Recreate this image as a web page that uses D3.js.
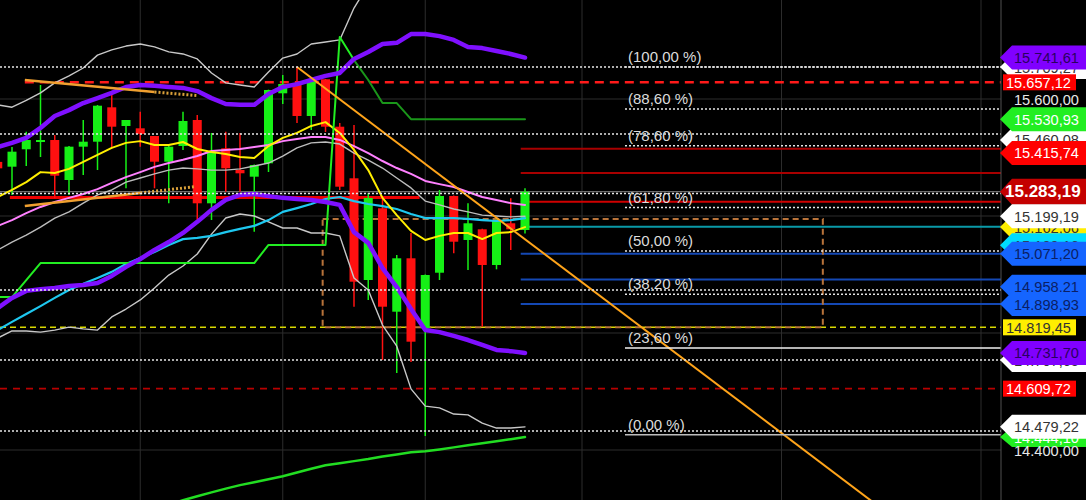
<!DOCTYPE html>
<html><head><meta charset="utf-8">
<script src="https://cdn.jsdelivr.net/npm/d3@7"></script>
<style>body{margin:0;background:#000;overflow:hidden}svg{display:block}</style>
</head><body><svg id="c" width="1086" height="500"></svg>
<script>
// ---------- DATA ----------
const candleIdx = d3.range(-1, 37);
const open  = [15385,15368.6,15428.1,15454,15459.8,15323.1,15437,15454,15571.6,15507.7,15499.8,15473.5,15385.6,15439.3,15528.2,15243.4,15431.5,15357.3,15334.4,15380.2,15619.5,15647.9,15541.9,15667.4,15505.3,15328.9,14981.2,15226.3,14872.8,15055.4,14816,15006.1,15268.4,15118,15154.5,15032.5,15175.1,15152.1];
const high  = [15400,15435.9,15488.2,15647.9,15476.9,15439.3,15528.2,15579.5,15624,15528.2,15556.6,15473.5,15440,15556.6,15545.3,15483.8,15488.2,15483.8,15376,15632,15682.1,15709.4,15671.8,15668.4,15518,15511.1,15278.6,15260.5,15066.7,15141.9,15000,15288.9,15270,15243.4,15156,15188,15260.5,15294.7];
const low   = [15340,15271.8,15370.9,15401.7,15260.5,15271.8,15340.2,15357.3,15431.5,15294.7,15437,15294.7,15243.4,15425.7,15186.3,15186.3,15283.1,15283.1,15146.3,15350.4,15582.9,15518,15494,15487.2,15288.9,14889.9,14912.8,14707.7,14663.2,14700.8,14447.8,14981.2,15072.5,15015.4,14821.5,15017.7,15083.8,15140.3];
const close = [15363,15419.9,15459.8,15459.8,15337.8,15437,15454,15577.1,15505.3,15528.2,15480.4,15385.6,15437,15524.8,15243.4,15419.9,15363.1,15346,15374.4,15630.8,15651.3,15541.9,15665,15505.3,15300.2,14975.4,15261.6,14889.9,15055.4,14770.3,14998.3,15268.4,15112.1,15175.1,15032.5,15186.3,15154.5,15283.19];

const purpleUpper = [15436,15450,15467,15501,15542,15562,15586,15603,15621,15641,15648,15645,15641,15638,15627,15603,15583,15580,15580,15617,15641,15651,15665,15679,15689,15737,15761,15788,15792,15822,15822,15815,15802,15778,15774,15764,15754,15741.61];
const purpleLower = [14885,14920,14944,14950,14954,14961,14964,14971,14995,15026,15053,15084,15111,15142,15180,15221,15255,15272,15275,15268,15262,15258,15255,15248,15238,15145,15108,15022,14957,14882,14810,14803,14790,14776,14759,14742,14738,14731.70];
const greyUpper = [15580,15572,15595,15621,15655,15679,15706,15750,15768,15781,15788,15778,15761,15754,15737,15689,15655,15648,15641,15692,15740,15754,15788,15795,15802,15911,15990,16058,16092,16126,16144,16144,16137,16126,16116,16110,16103,16096];
const greyMid = [15084,15111,15135,15162,15193,15214,15244,15272,15289,15316,15330,15344,15357,15364,15361,15357,15357,15361,15371,15381,15405,15433,15450,15453,15446,15415,15391,15364,15330,15296,15251,15238,15224,15214,15203,15200,15197,15199.19];
const greyLower = [14783,14807,14807,14803,14810,14820,14814,14810,14855,14882,14913,14954,14998,15029,15070,15138,15193,15207,15200,15180,15159,15159,15142,15142,15132,14988,14947,14827,14755,14609,14550,14544,14523,14520,14492,14475,14475,14479.22];
const pinkMA = [15166,15186,15210,15231,15248,15262,15275,15292,15313,15333,15350,15368,15381,15392,15405,15422,15426,15429,15436,15443,15456,15463,15470,15470,15460,15439,15415,15388,15364,15344,15320,15309,15299,15282,15265,15255,15244,15238];
const yellowMA = [15265,15289,15316,15350,15347,15361,15385,15409,15433,15450,15456,15443,15443,15453,15429,15419,15412,15402,15398,15439,15467,15484,15508,15521,15484,15426,15357,15262,15203,15149,15118,15132,15142,15142,15121,15142,15145,15162.06];
const cyanMA = [14810,14838,14865,14892,14920,14947,14968,14988,15009,15036,15056,15077,15101,15121,15125,15132,15145,15156,15166,15186,15214,15227,15241,15258,15265,15251,15241,15234,15224,15207,15193,15193,15193,15190,15186,15183,15186,15193];
const greenMA = [14050,14064,14077,14091,14105,14118,14132,14146,14159,14173,14187,14200,14214,14228,14242,14255,14268,14280,14290,14300,14310,14323,14336,14348,14355,14362,14369,14378,14385,14392,14396,14402,14409,14416,14423,14430,14437,14444.10];
const greenStep = [14923,14923,14981,15039,15039,15039,15039,15039,15039,15039,15039,15039,15039,15039,15039,15039,15039,15039,15039,15101,15101,15101,15101,15101,15812,15733,15665,15586,15586,15530.93,15530.93,15530.93,15530.93,15530.93,15530.93,15530.93,15530.93,15530.93];

const gridPrices = [15600, 15200, 14800, 14400];
const gridIdx = [9, 19, 29, 40, 54, 68];
const dottedLevels = [15709.27, 15480, 15277, 14947, 14707.65, 14465];
const fibRange = [14452, 15709.27];
const fibLevels = [100, 88.6, 78.6, 61.8, 50, 38.2, 23.6, 0];
const redDashedTop = 15657.12, redDashedLow = 14609.72, yellowDashed = 14819.45;
const lastPrice = 15283.19;
const redSupport = 15263, redSupportIdx = [-0.15, 28.6];
const rightRed = [15430, 15347, 15249];
const rightBlue = [15071.20, 14983, 14898.93];
const rightTeal = [15163];
const rightStartIdx = 35.7;
const zoneIdx = [21.8, 56.9], zonePrices = [15190, 14820];
const trendUpperIdx = [0.9, 10], trendUpperP = [15665, 15624], trendUpperExtIdx = [10, 13], trendUpperExtP = [15624, 15611.7];
const trendLowerIdx = [0.9, 9], trendLowerP = [15234, 15279], trendLowerExtIdx = [9, 12.8], trendLowerExtP = [15279, 15300];
const trendDownIdx = [20, 64], trendDownP = [15709.4, 14090];

// price tags, drawn in this order (later ones on top)
const tagValues = [15709.27, 15460.08, 15162.06, 15100.16, 14707.65, 14444.10, 15600, 14400,
  15741.61, 15657.12, 15530.93, 15415.74, 15283.19, 15199.19, 15071.20, 14958.21, 14898.93, 14819.45, 14731.70, 14609.72, 14479.22];

// ---------- RENDER ----------
const W = 1086, H = 500, plotRight = 1001;
const x = d3.scaleLinear().domain([0, 36]).range([12, 525]);
const y = d3.scaleLinear().domain([14400, 15600]).range([450, 99]);
const fmt = d3.formatLocale({decimal: ",", thousands: ".", grouping: [3], currency: ["", ""]}).format(",.2f");
const FONT = "'Liberation Sans', Arial, sans-serif";

const svg = d3.select('#c');
svg.append('rect').attr('width', W).attr('height', H).attr('fill', '#000');
svg.append('defs').append('clipPath').attr('id', 'plot')
  .append('rect').attr('x', 0).attr('y', 0).attr('width', plotRight).attr('height', H);
const g = svg.append('g').attr('clip-path', 'url(#plot)');

// grid
g.selectAll('.hg').data(gridPrices).join('line')
  .attr('x1', 0).attr('x2', plotRight).attr('y1', d => y(d)).attr('y2', d => y(d))
  .attr('stroke', '#2c2c2c').attr('stroke-width', 1);
g.selectAll('.vg').data(gridIdx).join('line')
  .attr('x1', d => x(d)).attr('x2', d => x(d)).attr('y1', 0).attr('y2', H)
  .attr('stroke', '#2c2c2c').attr('stroke-width', 1);

function hseg(p, x0, x1, stroke, width, dash) {
  g.append('line').attr('x1', x0).attr('x2', x1).attr('y1', y(p)).attr('y2', y(p))
    .attr('stroke', stroke).attr('stroke-width', width).attr('stroke-dasharray', dash || null);
}

// horizontal levels
hseg(lastPrice, 0, plotRight, '#6a6a6a', 1.2);
hseg(redSupport, x(redSupportIdx[0]), x(redSupportIdx[1]), '#ee0000', 3);
rightRed.forEach((p, k) => hseg(p, x(rightStartIdx), plotRight, k === 2 ? '#d00000' : '#a80000', 2));
rightBlue.forEach(p => hseg(p, x(rightStartIdx), plotRight, '#1448b4', 2));
rightTeal.forEach(p => hseg(p, x(rightStartIdx), plotRight, '#0a9aa8', 2));
hseg(redDashedTop, x(0.9), plotRight, '#ff1a1a', 2.5, '9,6');
hseg(redDashedLow, 0, plotRight, '#b80000', 1.6, '7,6');
hseg(yellowDashed, 0, plotRight, '#d8d800', 1.5, '6,4');

// zone box
g.append('rect')
  .attr('x', x(zoneIdx[0])).attr('y', y(zonePrices[0]))
  .attr('width', x(zoneIdx[1]) - x(zoneIdx[0])).attr('height', y(zonePrices[1]) - y(zonePrices[0]))
  .attr('fill', 'none').attr('stroke', '#b8733a').attr('stroke-width', 2).attr('stroke-dasharray', '6,4');

// candles
const cw = 9;
const cg = g.append('g');
candleIdx.forEach((i, k) => {
  const up = close[k] >= open[k];
  const col = up ? '#16f016' : '#ff1010';
  cg.append('line').attr('x1', x(i)).attr('x2', x(i)).attr('y1', y(high[k])).attr('y2', y(low[k]))
    .attr('stroke', col).attr('stroke-width', 1.5);
  const top = y(Math.max(open[k], close[k])), bot = y(Math.min(open[k], close[k]));
  cg.append('rect').attr('x', x(i) - cw / 2).attr('y', top).attr('width', cw).attr('height', Math.max(2, bot - top))
    .attr('fill', col);
});

// indicator lines
function series(vals, stroke, width, from, to) {
  const pts = vals.map((v, k) => [candleIdx[k], v]).filter(d => (from === undefined || d[0] >= from) && (to === undefined || d[0] <= to));
  g.append('path').datum(pts)
    .attr('d', d3.line().x(d => x(d[0])).y(d => y(d[1])))
    .attr('fill', 'none').attr('stroke', stroke).attr('stroke-width', width)
    .attr('stroke-linejoin', 'round').attr('stroke-linecap', 'round');
}
series(greenMA, '#22dd22', 2.5);
series(greyUpper, '#c8c8c8', 1.4);
series(greyLower, '#c8c8c8', 1.4);
series(greyMid, '#bdbdbd', 1.4);
series(cyanMA, '#1ec8f0', 2.2);
series(pinkMA, '#ff80ff', 2);
series(yellowMA, '#ffee00', 2);
series(greenStep, '#22ee22', 2, -1, 24);
series(greenStep, '#1a961a', 2, 24, 36);
series(purpleUpper, '#7f10ff', 4.5);
series(purpleLower, '#7f10ff', 4.5);

// trend lines
function seg(ix, ps, stroke, width, dash) {
  g.append('line').attr('x1', x(ix[0])).attr('x2', x(ix[1])).attr('y1', y(ps[0])).attr('y2', y(ps[1]))
    .attr('stroke', stroke).attr('stroke-width', width).attr('stroke-dasharray', dash || null);
}
seg(trendUpperIdx, trendUpperP, '#f0a030', 2.5);
seg(trendUpperExtIdx, trendUpperExtP, '#d9a03a', 3, '2,2');
seg(trendLowerIdx, trendLowerP, '#f0a030', 2.5);
seg(trendLowerExtIdx, trendLowerExtP, '#d9a03a', 3, '2,2');
seg(trendDownIdx, trendDownP, '#ffa41a', 2);

// full-width dotted levels
dottedLevels.forEach(p => hseg(p, 0, plotRight, '#e6e6e6', 1.5, '2,2'));

// fibonacci
const fibX0 = 625;
fibLevels.forEach(l => {
  const p = fibRange[0] + (fibRange[1] - fibRange[0]) * l / 100;
  if (l === 23.6) hseg(p, fibX0, plotRight, '#f0f0f0', 1.5);
  else if (l === 0) hseg(p, fibX0, plotRight, '#bdbdbd', 1.5);
  else hseg(p, fibX0, plotRight, '#e6e6e6', 1.5, '2,2');
  g.append('text').attr('x', 628).attr('y', y(p) - 5)
    .attr('font-family', FONT).attr('font-size', 15).attr('fill', '#dcdcdc')
    .text('(' + fmt(l) + ' %)');
});

// right axis separator
svg.append('line').attr('x1', plotRight).attr('x2', plotRight).attr('y1', 0).attr('y2', H)
  .attr('stroke', '#505050').attr('stroke-width', 1);

// price tags
const W_ = '#ffffff', PUR = '#8000ff', RED = '#ff0000', GRN = '#22ee22', BLU = '#1565ff', YEL = '#ffee00', CYN = '#00dcff';
const tagStyles = [
  {kind: 'arrow', fill: W_, text: '#333'}, {kind: 'arrow', fill: W_, text: '#333'},
  {kind: 'arrow', fill: YEL, text: '#333'}, {kind: 'arrow', fill: CYN, text: '#333'},
  {kind: 'arrow', fill: W_, text: '#333'}, {kind: 'arrow', fill: GRN, text: '#fff', h: 20},
  {kind: 'text'}, {kind: 'text'},
  {kind: 'arrow', fill: PUR, text: '#2a0060'}, {kind: 'rect', fill: RED, text: '#fff'},
  {kind: 'arrow', fill: GRN, text: '#fff'}, {kind: 'arrow', fill: RED, text: '#fff'},
  {kind: 'arrow', fill: '#c40000', text: '#fff', bold: true}, {kind: 'arrow', fill: W_, text: '#333'},
  {kind: 'arrow', fill: BLU, text: '#0a1f66'}, {kind: 'arrow', fill: BLU, text: '#0a1f66'},
  {kind: 'arrow', fill: BLU, text: '#0a1f66'}, {kind: 'rect', fill: YEL, text: '#333'},
  {kind: 'arrow', fill: PUR, text: '#2a0060'}, {kind: 'rect', fill: RED, text: '#fff'},
  {kind: 'arrow', fill: W_, text: '#333'}
];
const tg = svg.append('g');
tagValues.forEach((v, k) => {
  const s = tagStyles[k], cy = y(v);
  if (s.kind === 'arrow') {
    const h = s.h || (s.bold ? 26 : 24);
    tg.append('path')
      .attr('d', `M${plotRight - 1},${cy} L${plotRight + 11},${cy - h / 2} L${W},${cy - h / 2} L${W},${cy + h / 2} L${plotRight + 11},${cy + h / 2} Z`)
      .attr('fill', s.fill);
    tg.append('text').attr('x', s.bold ? 1005 : 1014).attr('y', cy + 5.5)
      .attr('font-family', FONT).attr('font-size', s.bold ? 17 : 14.6).attr('font-weight', s.bold ? 'bold' : null)
      .attr('fill', s.text).text(fmt(v));
  } else if (s.kind === 'rect') {
    tg.append('rect').attr('x', 1003).attr('y', cy - 8).attr('width', 73).attr('height', 16).attr('fill', s.fill);
    tg.append('text').attr('x', 1006).attr('y', cy + 5.5)
      .attr('font-family', FONT).attr('font-size', 14.6).attr('fill', s.text).text(fmt(v));
  } else {
    tg.append('text').attr('x', 1014).attr('y', cy + 5.5)
      .attr('font-family', FONT).attr('font-size', 14.6).attr('fill', '#e8e8e8').text(fmt(v));
  }
});
</script>
</body></html>
